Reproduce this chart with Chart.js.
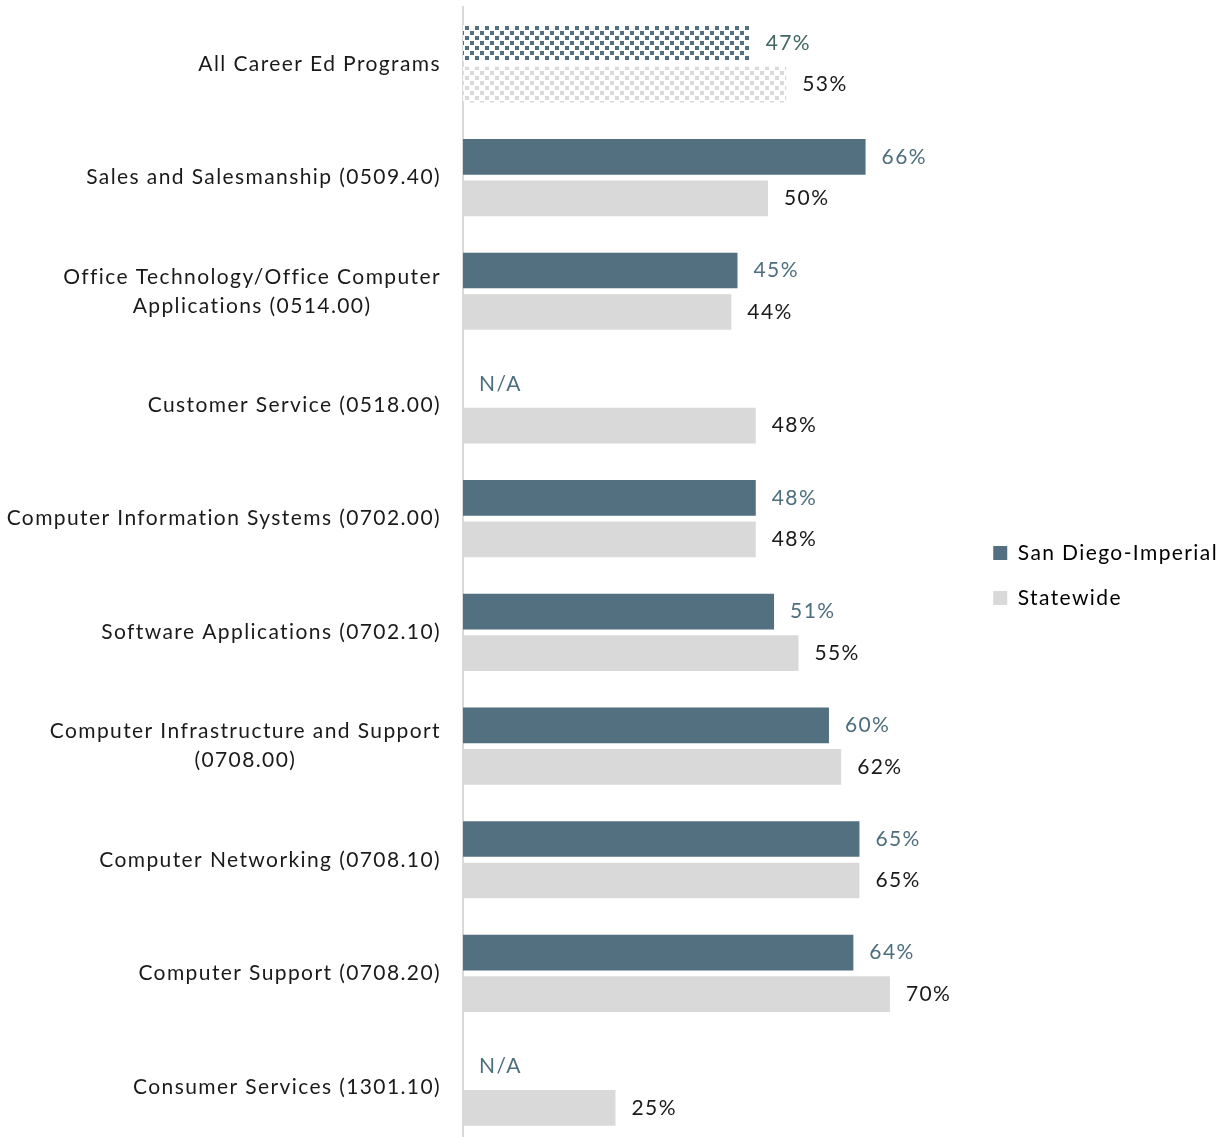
<!DOCTYPE html>
<html>
<head>
<meta charset="utf-8">
<script src="https://cdn.jsdelivr.net/npm/chart.js@4"></script>
<style>
  html, body { margin: 0; padding: 0; background: #fff; overflow: hidden; }
  #wrap { width: 1231px; height: 1144px; position: relative; }
</style>
</head>
<body>
<div id="wrap"><canvas id="myChart"></canvas></div>
<script>
'use strict';
var categories = [
  'All Career Ed Programs',
  'Sales and Salesmanship (0509.40)',
  ['Office Technology/Office Computer', 'Applications (0514.00)'],
  'Customer Service (0518.00)',
  'Computer Information Systems (0702.00)',
  'Software Applications (0702.10)',
  ['Computer Infrastructure and Support', '(0708.00)'],
  'Computer Networking (0708.10)',
  'Computer Support (0708.20)',
  'Consumer Services (1301.10)'
];
var sanDiego = [47, 66, 45, null, 48, 51, 60, 65, 64, null];
var statewide = [53, 50, 44, 48, 48, 55, 62, 65, 70, 25];
var seriesNames = ['San Diego-Imperial', 'Statewide'];

var fontFamily = 'Lato, "Open Sans", sans-serif';
var spacing = '1.4px';
var sdColor = '#52707f';
var swColor = '#d9d9d9';

function makePattern(color) {
  var c = document.createElement('canvas');
  c.width = 10;
  c.height = 10;
  var g = c.getContext('2d');
  g.fillStyle = '#fff';
  g.fillRect(0, 0, 10, 10);
  g.fillStyle = color;
  g.fillRect(0, 1, 4, 4);
  g.fillRect(5, 6, 4, 4);
  return g.createPattern(c, 'repeat');
}
var sdPattern = makePattern(sdColor);
var swPattern = makePattern(swColor);

// wider letter spacing for every text the chart draws
var spacedText = {
  id: 'spacedText',
  beforeInit: function(chart) { chart.ctx.letterSpacing = spacing; },
  beforeLayout: function(chart) { chart.ctx.letterSpacing = spacing; },
  beforeDraw: function(chart) { chart.ctx.letterSpacing = spacing; }
};

// draws the category labels right-aligned, lines centred inside the block
var catLabels = {
  id: 'catLabels',
  afterDraw: function(chart) {
    var ctx = chart.ctx;
    var yScale = chart.scales.y;
    ctx.save();
    ctx.letterSpacing = spacing;
    ctx.font = '21px ' + fontFamily;
    ctx.fillStyle = '#1a1a1a';
    ctx.textBaseline = 'middle';
    ctx.textAlign = 'center';
    var right = 441;
    var lineH = 29;
    for (var i = 0; i < categories.length; i++) {
      var lines = [].concat(categories[i]);
      var w = 0;
      lines.forEach(function(l) { w = Math.max(w, ctx.measureText(l).width); });
      var cx = right - w / 2;
      var yc = yScale.getPixelForTick(i);
      var y0 = yc - (lines.length - 1) * lineH / 2;
      for (var j = 0; j < lines.length; j++) {
        ctx.fillText(lines[j], cx, y0 + j * lineH);
      }
    }
    ctx.restore();
  }
};

// value labels at the end of each bar
var valueLabels = {
  id: 'valueLabels',
  afterDatasetsDraw: function(chart) {
    var ctx = chart.ctx;
    var x0 = chart.scales.x.getPixelForValue(0);
    ctx.save();
    ctx.letterSpacing = spacing;
    ctx.font = '21px ' + fontFamily;
    ctx.textBaseline = 'middle';
    ctx.textAlign = 'left';
    var sdMeta = chart.getDatasetMeta(0);
    var swMeta = chart.getDatasetMeta(1);
    var gap = swMeta.data[0].y - sdMeta.data[0].y;
    chart.data.datasets.forEach(function(ds, d) {
      var meta = chart.getDatasetMeta(d);
      meta.data.forEach(function(bar, i) {
        var v = ds.data[i];
        var y = isFinite(bar.y) ? bar.y : swMeta.data[i].y - gap;
        if (v === null) {
          ctx.fillStyle = '#4d6f7d';
          ctx.fillText('N/A', x0 + 16, y);
          return;
        }
        if (d === 0) {
          ctx.fillStyle = i === 0 ? '#40675f' : '#4d6f7d';
        } else {
          ctx.fillStyle = '#1a1a1a';
        }
        ctx.fillText(v + '%', bar.x + 16, y);
      });
    });
    ctx.restore();
  }
};

function drawChart() {
  var ctx = document.getElementById('myChart').getContext('2d');
  new Chart(ctx, {
    type: 'bar',
    data: {
      labels: categories,
      datasets: [{
        label: seriesNames[0],
        data: sanDiego,
        backgroundColor: function(c) { return c.dataIndex === 0 ? sdPattern : sdColor; },
        categoryPercentage: 0.73,
        barPercentage: 0.86
      }, {
        label: seriesNames[1],
        data: statewide,
        backgroundColor: function(c) { return c.dataIndex === 0 ? swPattern : swColor; },
        categoryPercentage: 0.73,
        barPercentage: 0.86
      }]
    },
    options: {
      indexAxis: 'y',
      responsive: true,
      maintainAspectRatio: false,
      animation: false,
      layout: { padding: { left: 455, top: 7, right: 3, bottom: 0 } },
      scales: {
        x: {
          min: 0,
          max: 83,
          display: false
        },
        y: {
          grid: { display: false },
          border: { display: true, color: '#d9d9d9', width: 2 },
          ticks: { display: false }
        }
      },
      plugins: {
        legend: {
          position: 'right',
          maxWidth: 320,
          labels: {
            boxWidth: 14,
            boxHeight: 14,
            padding: 24,
            color: '#1a1a1a',
            font: { family: fontFamily, size: 21 },
            generateLabels: function(chart) {
              return seriesNames.map(function(n, i) {
                return {
                  text: n,
                  fillStyle: i === 0 ? sdColor : swColor,
                  strokeStyle: 'rgba(0,0,0,0)',
                  lineWidth: 0,
                  datasetIndex: i
                };
              });
            }
          }
        },
        tooltip: { enabled: false }
      }
    },
    plugins: [spacedText, catLabels, valueLabels]
  });
}

if (document.fonts && document.fonts.load) {
  document.fonts.load('21px Lato').then(drawChart, drawChart);
} else {
  drawChart();
}
</script>
</body>
</html>
